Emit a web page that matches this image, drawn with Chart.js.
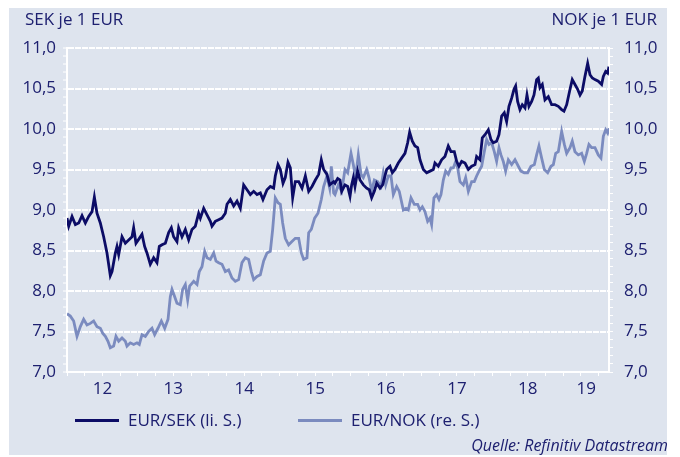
<!DOCTYPE html>
<html lang="de">
<head>
<meta charset="utf-8">
<title>EUR/SEK und EUR/NOK</title>
<script src="https://cdn.jsdelivr.net/npm/chart.js@4/dist/chart.umd.min.js"></script>
<style>
    body { margin: 0; background: #ffffff; font-family: 'Open Sans', sans-serif; color: #1e2070; }
    .card { position: absolute; left: 9px; top: 8px; width: 658px; height: 447px; background: #dee4ee; }
    .wrap { position: absolute; left: 0; top: 0; width: 680px; height: 457px; }
    .unit { position: absolute; top: 8px; font-size: 17px; line-height: 22px; white-space: nowrap; }
    .legend-item { position: absolute; top: 409px; display: flex; align-items: center; font-size: 17px; line-height: 22px; white-space: nowrap; }
    .legend-line { display: inline-block; width: 44px; height: 3px; margin-right: 9px; }
    .source { position: absolute; right: 12px; top: 435px; font-size: 16px; font-style: italic; line-height: 20px; }
</style>
</head>
<body>
<div class="card"></div>
<div class="wrap"><canvas id="fxChart" width="680" height="457"></canvas></div>
<div class="unit" style="left:25px">SEK je 1 EUR</div>
<div class="unit" style="right:23px">NOK je 1 EUR</div>
<div id="legend"></div>
<div class="source">Quelle: Refinitiv Datastream</div>

<script>
// EUR/SEK (left axis), dates as decimal years
const sekDates = [
    2012.000, 2012.024, 2012.071, 2012.118, 2012.165, 2012.212, 2012.259, 2012.306, 2012.353, 2012.386,
    2012.423, 2012.470, 2012.517, 2012.564, 2012.611, 2012.635, 2012.682, 2012.705, 2012.729, 2012.776,
    2012.823, 2012.870, 2012.917, 2012.940, 2012.973, 2013.020, 2013.058, 2013.095, 2013.128, 2013.175,
    2013.222, 2013.269, 2013.302, 2013.340, 2013.387, 2013.434, 2013.472, 2013.504, 2013.551, 2013.575,
    2013.622, 2013.669, 2013.716, 2013.763, 2013.810, 2013.857, 2013.881, 2013.928, 2013.975, 2014.022,
    2014.045, 2014.092, 2014.139, 2014.186, 2014.233, 2014.257, 2014.304, 2014.351, 2014.398, 2014.445,
    2014.492, 2014.539, 2014.586, 2014.633, 2014.680, 2014.727, 2014.764, 2014.821, 2014.868, 2014.915,
    2014.938, 2014.976, 2015.009, 2015.047, 2015.079, 2015.117, 2015.150, 2015.183, 2015.220, 2015.268,
    2015.315, 2015.362, 2015.409, 2015.456, 2015.503, 2015.550, 2015.587, 2015.620, 2015.667, 2015.705,
    2015.761,
    2015.780, 2015.818, 2015.851, 2015.874, 2015.921, 2015.959, 2015.992, 2016.015, 2016.039, 2016.062,
    2016.100, 2016.133, 2016.180, 2016.227, 2016.264, 2016.297, 2016.335, 2016.368, 2016.415, 2016.452,
    2016.485, 2016.509, 2016.556, 2016.589, 2016.626, 2016.673, 2016.720, 2016.767, 2016.805, 2016.833,
    2016.871, 2016.908, 2016.946, 2016.979, 2017.026, 2017.073, 2017.120, 2017.167, 2017.190, 2017.237,
    2017.284, 2017.331, 2017.378, 2017.416, 2017.463, 2017.496, 2017.529, 2017.567, 2017.614, 2017.661,
    2017.708, 2017.755, 2017.778, 2017.825, 2017.858, 2017.896, 2017.943, 2017.980, 2018.013, 2018.060,
    2018.093, 2018.131, 2018.168, 2018.201, 2018.234, 2018.272, 2018.305, 2018.328, 2018.356, 2018.389,
    2018.422, 2018.460, 2018.488, 2018.516, 2018.554, 2018.587, 2018.624, 2018.648, 2018.671, 2018.704,
    2018.742, 2018.789, 2018.836, 2018.883, 2018.930, 2018.977, 2019.010, 2019.048, 2019.095, 2019.127,
    2019.165, 2019.203, 2019.236, 2019.268, 2019.306, 2019.344, 2019.377, 2019.410, 2019.447, 2019.494,
    2019.541, 2019.565, 2019.598, 2019.626, 2019.645
];
const sekRates = [
    8.90, 8.80, 8.92, 8.82, 8.84, 8.93, 8.84, 8.92, 8.98, 9.16,
    8.96, 8.84, 8.67, 8.47, 8.19, 8.24, 8.47, 8.55, 8.45, 8.67,
    8.59, 8.63, 8.67, 8.78, 8.59, 8.65, 8.70, 8.55, 8.47, 8.33,
    8.41, 8.35, 8.55, 8.57, 8.59, 8.72, 8.78, 8.67, 8.61, 8.78,
    8.67, 8.76, 8.63, 8.76, 8.80, 8.96, 8.90, 9.02, 8.94, 8.86,
    8.80, 8.86, 8.88, 8.90, 8.96, 9.07, 9.13, 9.05, 9.11, 9.02,
    9.31, 9.25, 9.19, 9.23, 9.19, 9.21, 9.13, 9.25, 9.29, 9.27,
    9.42, 9.56, 9.50, 9.33, 9.40, 9.59, 9.52, 9.15, 9.35, 9.35,
    9.27, 9.42, 9.23, 9.29, 9.37, 9.44, 9.62, 9.50, 9.44, 9.31,
    9.35,
    9.33, 9.39, 9.37, 9.23, 9.31, 9.29, 9.17, 9.31, 9.40, 9.29,
    9.48, 9.37, 9.31, 9.27, 9.25, 9.15, 9.23, 9.33, 9.27, 9.31,
    9.42, 9.50, 9.54, 9.46, 9.50, 9.58, 9.64, 9.70, 9.83, 9.96,
    9.85, 9.79, 9.77, 9.62, 9.50, 9.46, 9.48, 9.50, 9.58, 9.54,
    9.62, 9.66, 9.79, 9.72, 9.72, 9.60, 9.54, 9.60, 9.58, 9.50,
    9.54, 9.56, 9.66, 9.62, 9.89, 9.93, 9.99, 9.87, 9.83, 9.85,
    9.93, 10.16, 10.20, 10.09, 10.28, 10.38, 10.49, 10.53, 10.34, 10.24,
    10.30, 10.26, 10.42, 10.28, 10.34, 10.42, 10.61, 10.63, 10.51, 10.55,
    10.36, 10.40, 10.30, 10.30, 10.28, 10.24, 10.22, 10.30, 10.49, 10.61,
    10.55, 10.49, 10.42, 10.47, 10.65, 10.81, 10.67, 10.63, 10.61, 10.59,
    10.55, 10.65, 10.71, 10.69, 10.77
];

// EUR/NOK (right axis)
const nokDates = [
    2012.000, 2012.047, 2012.094, 2012.141, 2012.188, 2012.235, 2012.282, 2012.329, 2012.376, 2012.423,
    2012.470, 2012.503, 2012.541, 2012.578, 2012.611, 2012.658, 2012.691, 2012.729, 2012.776, 2012.823,
    2012.846, 2012.893, 2012.940, 2012.987, 2013.020, 2013.058, 2013.105, 2013.152, 2013.199, 2013.236,
    2013.283, 2013.331, 2013.378, 2013.425, 2013.457, 2013.481, 2013.519, 2013.551, 2013.598, 2013.631,
    2013.669, 2013.702, 2013.730, 2013.787, 2013.834, 2013.866, 2013.904, 2013.942, 2013.975, 2014.022,
    2014.069, 2014.102, 2014.139, 2014.186, 2014.233, 2014.280, 2014.327, 2014.374, 2014.421, 2014.468,
    2014.515, 2014.562, 2014.600, 2014.633, 2014.680, 2014.727, 2014.774, 2014.821, 2014.868, 2014.901,
    2014.938, 2014.976, 2015.009, 2015.042, 2015.079, 2015.126, 2015.173, 2015.220, 2015.268, 2015.305,
    2015.338, 2015.385, 2015.409, 2015.446, 2015.493, 2015.540, 2015.587, 2015.620, 2015.667, 2015.705,
    2015.728, 2015.761,
    2015.780, 2015.827, 2015.874, 2015.921, 2015.959, 2016.006, 2016.039, 2016.071, 2016.109, 2016.147,
    2016.180, 2016.227, 2016.260, 2016.297, 2016.335, 2016.382, 2016.429, 2016.462, 2016.495, 2016.532,
    2016.570, 2016.603, 2016.650, 2016.687, 2016.744, 2016.781, 2016.814, 2016.852, 2016.899, 2016.946,
    2016.979, 2017.012, 2017.049, 2017.087, 2017.120, 2017.143, 2017.176, 2017.214, 2017.247, 2017.275,
    2017.308, 2017.341, 2017.378, 2017.416, 2017.449, 2017.482, 2017.510, 2017.543, 2017.590, 2017.623,
    2017.661, 2017.708, 2017.745, 2017.778, 2017.811, 2017.849, 2017.886, 2017.919, 2017.952, 2017.990,
    2018.027, 2018.060, 2018.093, 2018.121, 2018.154, 2018.187, 2018.225, 2018.272, 2018.319, 2018.366,
    2018.403, 2018.450, 2018.497, 2018.544, 2018.592, 2018.624, 2018.657, 2018.695, 2018.733, 2018.780,
    2018.827, 2018.860, 2018.893, 2018.930, 2018.977, 2019.015, 2019.048, 2019.095, 2019.127, 2019.165,
    2019.212, 2019.259, 2019.297, 2019.330, 2019.362, 2019.400, 2019.447, 2019.494, 2019.532, 2019.565,
    2019.598, 2019.626, 2019.645
];
const nokRates = [
    7.72, 7.69, 7.63, 7.44, 7.56, 7.65, 7.58, 7.60, 7.63, 7.56,
    7.54, 7.48, 7.44, 7.38, 7.30, 7.32, 7.44, 7.38, 7.42, 7.38,
    7.32, 7.36, 7.34, 7.36, 7.34, 7.46, 7.44, 7.50, 7.54, 7.46,
    7.54, 7.63, 7.54, 7.65, 7.93, 8.02, 7.93, 7.85, 7.83, 8.02,
    8.08, 7.89, 8.06, 8.12, 8.08, 8.24, 8.30, 8.49, 8.41, 8.39,
    8.47, 8.37, 8.35, 8.33, 8.24, 8.26, 8.16, 8.12, 8.14, 8.35,
    8.41, 8.39, 8.24, 8.14, 8.18, 8.20, 8.37, 8.47, 8.49, 8.76,
    9.15, 9.09, 9.07, 8.84, 8.65, 8.57, 8.61, 8.65, 8.65, 8.47,
    8.39, 8.41, 8.72, 8.76, 8.90, 8.96, 9.13, 9.29, 9.42, 9.27,
    9.54, 9.21,
    9.19, 9.31, 9.23, 9.50, 9.46, 9.70, 9.56, 9.40, 9.68, 9.44,
    9.40, 9.50, 9.40, 9.23, 9.37, 9.35, 9.29, 9.46, 9.31, 9.42,
    9.42, 9.19, 9.29, 9.23, 9.00, 9.02, 9.00, 9.15, 9.07, 9.07,
    9.00, 9.04, 8.98, 8.86, 8.90, 8.82, 9.15, 9.19, 9.13, 9.19,
    9.37, 9.48, 9.44, 9.52, 9.52, 9.60, 9.52, 9.35, 9.31, 9.40,
    9.23, 9.35, 9.35, 9.42, 9.48, 9.54, 9.72, 9.87, 9.81, 9.83,
    9.72, 9.60, 9.77, 9.68, 9.60, 9.48, 9.62, 9.56, 9.62, 9.54,
    9.48, 9.46, 9.46, 9.54, 9.56, 9.68, 9.79, 9.64, 9.50, 9.46,
    9.54, 9.56, 9.70, 9.72, 9.97, 9.81, 9.70, 9.77, 9.85, 9.72,
    9.68, 9.70, 9.60, 9.70, 9.81, 9.77, 9.77, 9.68, 9.64, 9.91,
    9.99, 9.95, 10.01
];

// x axis: year labels, centred in each year
const yearLabels = ['12', '13', '14', '15', '16', '17', '18', '19'];
const firstYear = 2012;

const textColor = '#1e2070';
const sekColor = '#0c0c66';
const nokColor = '#7b8bbf';
const tickFont = { family: "'Open Sans', sans-serif", size: 17 };

const xMin = firstYear;
const xMax = sekDates[sekDates.length - 1];

// quarter tick marks plus the label positions
const quarterTicks = [];
for (let q = xMin; q <= xMax; q += 0.25) quarterTicks.push(q);
const labelPositions = yearLabels.map(function(label, i) {
    const start = firstYear + i;
    const end = Math.min(start + 1, xMax);
    return (start + end) / 2;
});

function isQuarter(v) {
    return Math.abs(v * 4 - Math.round(v * 4)) < 1e-6;
}
function isHalf(v) {
    return Math.abs(v * 2 - Math.round(v * 2)) < 1e-6;
}
function commaLabel(v) {
    return isHalf(v) ? v.toFixed(1).replace('.', ',') : '';
}

function toPoints(dates, rates) {
    return dates.map((d, i) => ({ x: d, y: rates[i] }));
}

const yAxisBase = {
    type: 'linear',
    min: 7,
    max: 11,
    ticks: {
        stepSize: 0.1,
        autoSkip: false,
        color: textColor,
        font: tickFont,
        callback: commaLabel
    },
    border: { color: '#ffffff', width: 2 }
};

const ctx = document.getElementById('fxChart').getContext('2d');
const fxChart = new Chart(ctx, {
    type: 'line',
    data: {
        datasets: [
            {
                label: 'EUR/SEK (li. S.)',
                data: toPoints(sekDates, sekRates),
                borderColor: sekColor,
                backgroundColor: sekColor,
                borderWidth: 2.8,
                pointRadius: 0,
                tension: 0,
                yAxisID: 'y'
            },
            {
                label: 'EUR/NOK (re. S.)',
                data: toPoints(nokDates, nokRates),
                borderColor: nokColor,
                backgroundColor: nokColor,
                borderWidth: 2.8,
                pointRadius: 0,
                tension: 0,
                yAxisID: 'y2'
            }
        ]
    },
    options: {
        responsive: false,
        animation: false,
        layout: { padding: { top: 48, bottom: 51, left: 0, right: 0 } },
        plugins: {
            legend: { display: false },
            tooltip: { enabled: false }
        },
        scales: {
            x: {
                type: 'linear',
                min: xMin,
                max: xMax,
                afterBuildTicks: function(scale) {
                    const values = quarterTicks.concat(labelPositions.filter(v => !isQuarter(v)));
                    values.sort((a, b) => a - b);
                    scale.ticks = values.map(v => ({ value: v }));
                },
                afterFit: function(scale) { scale.height = 34; },
                ticks: {
                    autoSkip: false,
                    maxRotation: 0,
                    padding: 3,
                    color: textColor,
                    font: tickFont,
                    callback: function(value) {
                        const i = labelPositions.findIndex(p => Math.abs(p - value) < 1e-6);
                        return i >= 0 ? yearLabels[i] : '';
                    }
                },
                grid: {
                    drawOnChartArea: false,
                    tickLength: 4,
                    tickWidth: 1,
                    tickColor: function(c) {
                        return isQuarter(c.tick.value) ? '#ffffff' : 'rgba(0,0,0,0)';
                    }
                },
                border: { color: '#ffffff', width: 2 }
            },
            y: Object.assign({}, yAxisBase, {
                position: 'left',
                afterFit: function(scale) { scale.width = 67; },
                ticks: Object.assign({}, yAxisBase.ticks, { padding: 7 }),
                grid: {
                    color: function(c) {
                        return isHalf(c.tick.value) ? '#ffffff' : 'rgba(0,0,0,0)';
                    },
                    lineWidth: 2,
                    tickLength: 4,
                    tickWidth: 1,
                    tickColor: '#ffffff'
                },
                border: { color: '#ffffff', width: 2, dash: [6, 1] }
            }),
            y2: Object.assign({}, yAxisBase, {
                position: 'right',
                afterFit: function(scale) { scale.width = 71; },
                ticks: Object.assign({}, yAxisBase.ticks, { padding: 11 }),
                grid: {
                    drawOnChartArea: false,
                    tickLength: 4,
                    tickWidth: 1,
                    tickColor: '#ffffff'
                }
            })
        }
    }
});

// Legend below the chart, built from the datasets
const legendBox = document.getElementById('legend');
const legendLeft = [75, 298];
fxChart.data.datasets.forEach(function(ds, i) {
    const item = document.createElement('div');
    item.className = 'legend-item';
    item.style.left = legendLeft[i] + 'px';
    const line = document.createElement('span');
    line.className = 'legend-line';
    line.style.background = ds.borderColor;
    item.appendChild(line);
    item.appendChild(document.createTextNode(ds.label));
    legendBox.appendChild(item);
});
</script>
</body>
</html>
